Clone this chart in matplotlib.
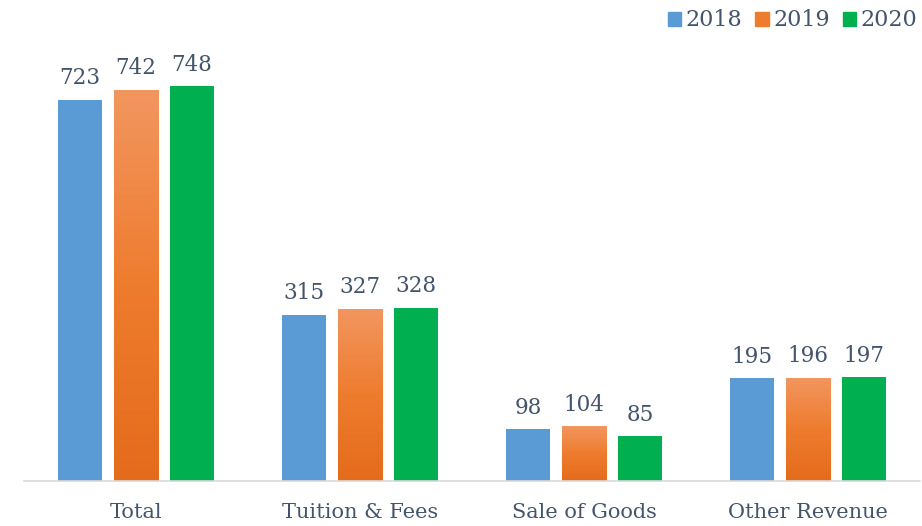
import numpy as np
import matplotlib
matplotlib.use("Agg")
import matplotlib.pyplot as plt
from matplotlib.colors import LinearSegmentedColormap
from matplotlib.patches import Patch

categories = ["Total", "Tuition & Fees", "Sale of Goods", "Other Revenue"]
years = ["2018", "2019", "2020"]
v2018 = [723, 315, 98, 195]
v2019 = [742, 327, 104, 196]
v2020 = [748, 328, 85, 197]

txt = "#44546A"
blue = "#5B9BD5"
green = "#00B050"
orange_top = "#F29660"
orange_bot = "#E56B1C"

plt.rcParams["font.family"] = ["DejaVu Serif"]

fig = plt.figure(figsize=(9.22, 5.26), dpi=100)
ax = fig.add_axes([24 / 922, 45 / 526, 896 / 922, 422 / 526])

x = np.arange(len(categories))
w = 0.2
step = 0.25

b1 = ax.bar(x - step, v2018, w, color=blue, zorder=2)
b2 = ax.bar(x, v2019, w, color="none", zorder=2)
b3 = ax.bar(x + step, v2020, w, color=green, zorder=2)

# gradient fill for the orange bars
cmap = LinearSegmentedColormap.from_list("org", [orange_bot, "#EE7C2E", orange_top])
grad = np.linspace(0, 1, 256).reshape(-1, 1)
for r in b2:
    x0, y0 = r.get_x(), r.get_y()
    im = ax.imshow(grad, cmap=cmap, aspect="auto", origin="lower",
                   extent=[x0, x0 + r.get_width(), y0, y0 + r.get_height()], zorder=2)
    im.set_clip_path(r)

for bars, vals in [(b1, v2018), (b2, v2019), (b3, v2020)]:
    for r, v in zip(bars, vals):
        ax.text(r.get_x() + r.get_width() / 2, v + 20, str(v), ha="center", va="bottom",
                fontsize=15.5, color=txt)

ax.set_xlim(-0.5, 3.5)
ax.set_ylim(0, 800)
ax.set_xticks(x)
ax.set_xticklabels(categories, fontsize=15, color=txt)
ax.tick_params(axis="x", length=0, pad=16)
ax.set_yticks([])
for s in ["top", "right", "left"]:
    ax.spines[s].set_visible(False)
ax.spines["bottom"].set_color("#D9D9D9")
ax.spines["bottom"].set_linewidth(1.2)

handles = [Patch(color=blue), Patch(color="#EE7C2E"), Patch(color=green)]
fig.legend(handles, years, loc="upper right", bbox_to_anchor=(1.017, 1.02), ncol=3,
           frameon=False, fontsize=16, labelcolor=txt, handlelength=0.6, handleheight=0.6,
           handletextpad=0.2, columnspacing=0.6)

fig.savefig("out.png", dpi=100)
